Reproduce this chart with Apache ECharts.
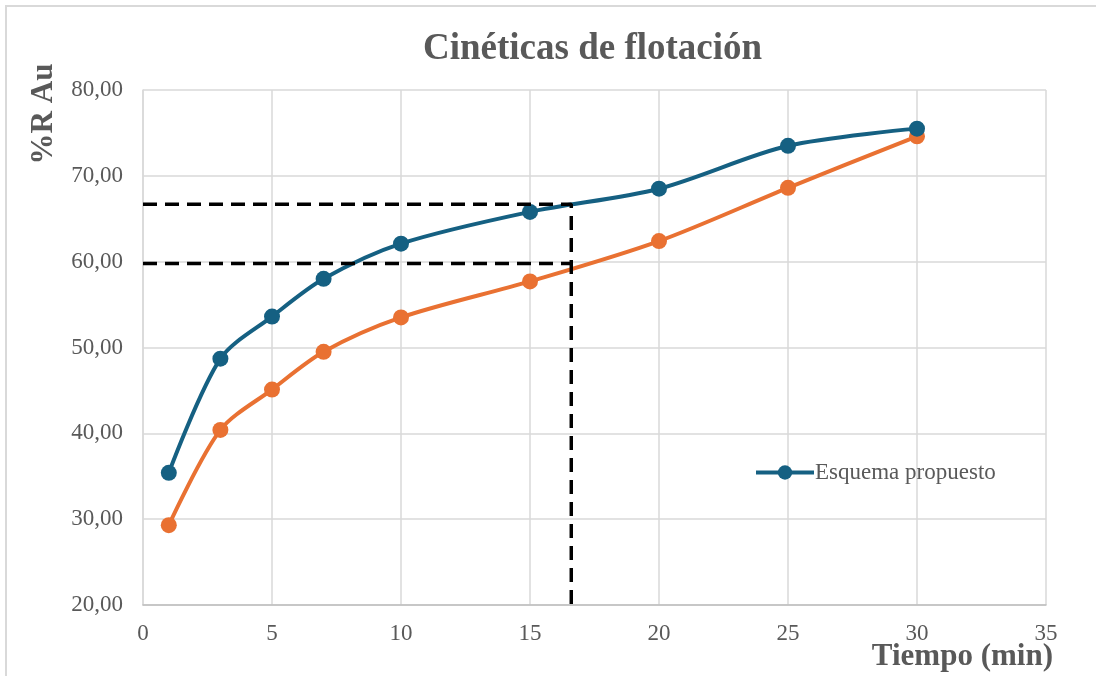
<!DOCTYPE html>
<html>
<head>
<meta charset="utf-8">
<script src="https://cdn.jsdelivr.net/npm/echarts@6/dist/echarts.min.js"></script>
<style>
html,body{margin:0;padding:0;background:#fff;}
#c{width:1096px;height:676px;}
</style>
</head>
<body>
<div id="c"></div>
<script>
var times = [1, 3, 5, 7, 10, 15, 20, 25, 30];
var proposedRecovery = [35.4, 48.7, 53.6, 58.0, 62.1, 65.8, 68.5, 73.5, 75.5];
var currentRecovery = [29.3, 40.4, 45.1, 49.5, 53.5, 57.7, 62.4, 68.6, 74.6];
var refLineUpper = [[0, 66.7], [16.6, 66.7], [16.6, 20]];
var refLineLower = [[0, 59.8], [16.6, 59.8]];
var seriesNames = ['Esquema propuesto', 'Esquema actual'];
var titleText = 'Cinéticas de flotación';
var xName = 'Tiempo (min)';
var yName = '%R Au';

function pairs(xs, ys) { return xs.map(function (x, i) { return [x, ys[i]]; }); }

var font = 'Liberation Serif';
var grey = '#595959';
var chart = echarts.init(document.getElementById('c'));
chart.setOption({
  animation: false,
  backgroundColor: '#fff',
  title: {
    text: titleText, left: 418, top: 26,
    textStyle: { fontFamily: font, fontSize: 37, fontWeight: 'bold', color: grey }
  },
  grid: { left: 143, right: 50, top: 90, bottom: 71 },
  legend: {
    data: [seriesNames[0]], left: 749, top: 456, itemWidth: 58, itemHeight: 18, itemGap: 4,
    lineStyle: { width: 4 },
    textStyle: { fontFamily: font, fontSize: 23, color: grey, padding: [0, 0, 0, -4] }
  },
  xAxis: {
    type: 'value', min: 0, max: 35, interval: 5,
    axisLine: { show: true, lineStyle: { color: '#bfbfbf', width: 1.5 } },
    axisTick: { show: false },
    axisLabel: { fontFamily: font, fontSize: 23, color: grey, margin: 17 },
    splitLine: { show: true, lineStyle: { color: '#d9d9d9', width: 1.5 } }
  },
  yAxis: {
    type: 'value', min: 20, max: 80, interval: 10,
    axisLine: { show: true, lineStyle: { color: '#d9d9d9', width: 1.5 } },
    axisTick: { show: false },
    axisLabel: {
      fontFamily: font, fontSize: 23, color: grey, margin: 20,
      formatter: function (v) { return v.toFixed(2).replace('.', ','); }
    },
    splitLine: { show: true, lineStyle: { color: '#d9d9d9', width: 1.5 } }
  },
  graphic: [
    { type: 'rect', shape: { x: 6, y: 6, width: 1200, height: 700 }, style: { fill: 'none', stroke: '#d9d9d9', lineWidth: 2 }, silent: true },
    { type: 'text', x: 44, y: 114, rotation: Math.PI / 2,
      style: { text: yName, fontFamily: font, fontSize: 31, fontWeight: 'bold', fill: grey, align: 'center', verticalAlign: 'middle' } },
    { type: 'text', x: 1053, y: 657,
      style: { text: xName, fontFamily: font, fontSize: 31, fontWeight: 'bold', fill: grey, align: 'right', verticalAlign: 'middle' } }
  ],
  series: [
    {
      name: seriesNames[1], type: 'line', smooth: 0.3, data: pairs(times, currentRecovery),
      symbol: 'circle', symbolSize: 16, z: 3,
      lineStyle: { color: '#E97132', width: 4 }, itemStyle: { color: '#E97132' }
    },
    {
      name: seriesNames[0], type: 'line', smooth: 0.3, data: pairs(times, proposedRecovery),
      symbol: 'circle', symbolSize: 16, z: 4,
      lineStyle: { color: '#156082', width: 4 }, itemStyle: { color: '#156082' }
    },
    {
      name: 'ref1', type: 'line', data: refLineUpper, symbol: 'none', z: 5, silent: true,
      lineStyle: { color: '#000', width: 3.5, type: [14, 8] }
    },
    {
      name: 'ref2', type: 'line', data: refLineLower, symbol: 'none', z: 5, silent: true,
      lineStyle: { color: '#000', width: 3.5, type: [14, 8] }
    }
  ]
});
</script>
</body>
</html>
